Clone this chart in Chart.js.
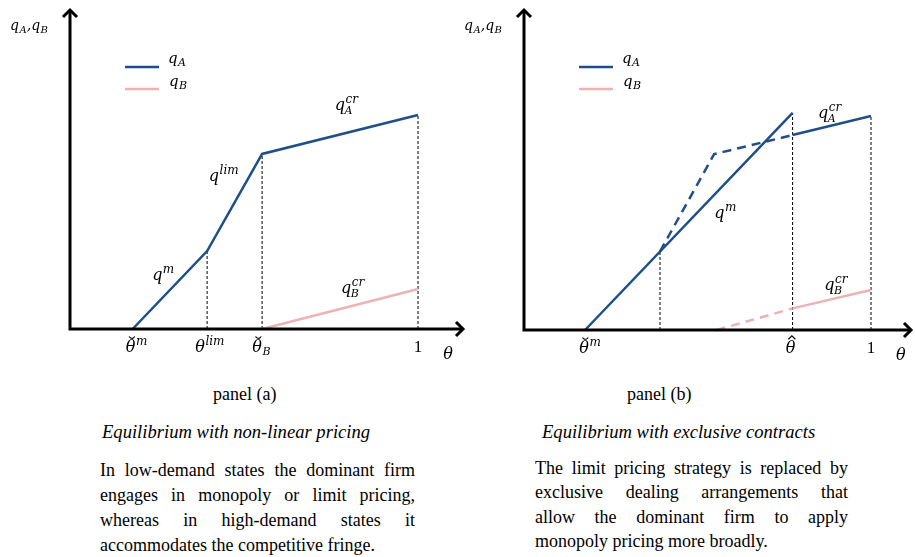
<!DOCTYPE html>
<html>
<head>
<meta charset="utf-8">
<script src="https://cdn.jsdelivr.net/npm/chart.js@4.4.1/dist/chart.umd.min.js"></script>
<style>
  body { margin: 0; background: #fff; width: 915px; height: 557px; position: relative; overflow: hidden;
         font-family: "Liberation Serif", "Times New Roman", serif; color: #000; }
  canvas { position: absolute; top: 0; }
  #chartA { left: 0; }
  #chartB { left: 455px; }
  .t { position: absolute; font-size: 18px; line-height: 20px; white-space: nowrap; }
  .it { font-style: italic; font-size: 18.6px; }
  .para { position: absolute; font-size: 18px; }
  .para div { text-align: justify; text-align-last: justify; white-space: nowrap; }
  .para div.last { text-align-last: left; }
</style>
</head>
<body>
<canvas id="chartA" width="470" height="370"></canvas>
<canvas id="chartB" width="460" height="370"></canvas>

<div class="t" style="left:213px;top:384px">panel (a)</div>
<div class="t" style="left:627px;top:384px">panel (b)</div>
<div class="t it" style="left:102px;top:422px">Equilibrium with non-linear pricing</div>
<div class="t it" style="left:542px;top:422px">Equilibrium with exclusive contracts</div>

<div class="para" style="left:100px;top:458px;width:315px;line-height:25px">
  <div>In low-demand states the dominant firm</div>
  <div>engages in monopoly or limit pricing,</div>
  <div>whereas in high-demand states it</div>
  <div class="last">accommodates the competitive fringe.</div>
</div>
<div class="para" style="left:535px;top:456px;width:313px;line-height:24.4px">
  <div>The limit pricing strategy is replaced by</div>
  <div>exclusive dealing arrangements that</div>
  <div>allow the dominant firm to apply</div>
  <div class="last">monopoly pricing more broadly.</div>
</div>

<script>
// ---- panel (a): non-linear pricing ----
const thetaA_a = [0.18, 0.394, 0.552, 1];      // θ̆m, θlim, θ̆B, 1
const qA_a = [0, 0.364, 0.818, 1.0];
const thetaB_a = [0.552, 1];
const qB_a = [0, 0.187];
const guideX_a = [0.394, 0.552, 1];
const guideTop_a = [0.364, 0.818, 1.0];
const tickX_a = [0.18, 0.394, 0.552, 1];
const tickLabels_a = [
  [["θ", "b"], ["", "breve"], ["m", "p"]],
  [["θ", "b"], ["lim", "p"]],
  [["θ", "b"], ["", "breve"], ["B", "d"]],
  [["1", "u"]],
];

// ---- panel (b): exclusive contracts ----
const thetaMono_b = [0.176, 0.774];
const qMono_b = [0, 1.015];
const thetaLimDash_b = [0.392, 0.548, 0.774];
const qLimDash_b = [0.367, 0.822, 0.911];
const thetaCr_b = [0.774, 1];
const qCr_b = [0.911, 1.0];
const thetaBDash_b = [0.555, 0.774];
const qBDash_b = [0, 0.101];
const thetaBSolid_b = [0.774, 1];
const qBSolid_b = [0.101, 0.187];
const guideX_b = [0.392, 0.774, 1];
const guideTop_b = [0.367, 1.015, 1.0];
const tickX_b = [0.176, 0.774, 1];
const tickLabels_b = [
  [["θ", "b"], ["", "breve"], ["m", "p"]],
  [["θ", "b"], ["", "hat"]],
  [["1", "u"]],
];

const BLUE = "#1f4e8a";
const PINK = "#ebb3b3";
const MATH = '"DejaVu Serif", "Liberation Serif", serif';
const UPRIGHT = '"Liberation Serif", serif';

// draws a small formula: parts are [text, kind], kind b=italic base, u=upright, p=sup, d=sub
function drawMath(ctx, parts, x, y, size, anchor, nudge) {
  const items = [];
  let cx = 0, supStart = 0, prev = null, base = null;
  for (const [t, k] of parts) {
    if (k === "breve" || k === "hat") { items.push({ k, x: base.x, w: base.w }); continue; }
    const small = k === "p" || k === "d";
    const fs = k === "p" ? Math.round(size * 0.78) : k === "d" ? Math.round(size * 0.7) : size;
    const font = k === "u" ? (size + 1) + "px " + UPRIGHT : "italic " + fs + "px " + MATH;
    ctx.font = font;
    const w = ctx.measureText(t).width;
    let px = cx;
    const stacked = k === "d" && prev === "p";
    if (stacked) px = supStart - 1;
    else if (small) { supStart = cx + 0.5; px = supStart; }
    let dy = 0;
    if (k === "p") dy = -size * 0.42;
    if (k === "d") dy = stacked ? size * 0.24 : size * 0.2;
    items.push({ t, font, x: px, w, dy });
    cx = Math.max(cx, px + w);
    if (!small) base = { x: px, w };
    prev = k;
  }
  let x0 = x;
  if (anchor === "base") x0 = x - items[0].w / 2;
  if (anchor === "center") x0 = x - cx / 2;
  x0 += nudge || 0;
  ctx.fillStyle = "#000";
  ctx.strokeStyle = "#000";
  ctx.textAlign = "left";
  ctx.textBaseline = "alphabetic";
  for (const it of items) {
    const bx = x0 + it.x + it.w / 2 + size * 0.08;
    const by = y - size * 0.86;
    if (it.k === "breve") {
      ctx.lineWidth = 1.1;
      ctx.beginPath();
      ctx.arc(bx, by - 3, 3, 0.12 * Math.PI, 0.88 * Math.PI);
      ctx.stroke();
      continue;
    }
    if (it.k === "hat") {
      ctx.lineWidth = 1.1;
      ctx.beginPath();
      ctx.moveTo(bx - 3.5, by);
      ctx.lineTo(bx, by - 3.5);
      ctx.lineTo(bx + 3.5, by);
      ctx.stroke();
      continue;
    }
    ctx.font = it.font;
    ctx.fillText(it.t, x0 + it.x, y + it.dy);
  }
}

const decor = {
  id: "decor",
  afterDatasetsDraw(chart, args, o) {
    const { ctx, chartArea: a, scales: { x, y } } = chart;
    ctx.save();
    // axes with open arrowheads
    ctx.strokeStyle = "#000";
    ctx.lineWidth = 3;
    ctx.beginPath();
    ctx.moveTo(a.left - 1.5, a.bottom);
    ctx.lineTo(a.right - 2, a.bottom);
    ctx.moveTo(a.left, a.bottom + 1.5);
    ctx.lineTo(a.left, a.top + 2);
    ctx.stroke();
    ctx.lineJoin = "miter";
    ctx.beginPath();
    ctx.moveTo(a.right - 9, a.bottom - 7);
    ctx.lineTo(a.right - 2, a.bottom);
    ctx.lineTo(a.right - 9, a.bottom + 7);
    ctx.moveTo(a.left - 7, a.top + 9);
    ctx.lineTo(a.left, a.top + 2);
    ctx.lineTo(a.left + 7, a.top + 9);
    ctx.stroke();

    // legend
    ctx.lineWidth = 2.5;
    ctx.strokeStyle = BLUE;
    ctx.beginPath(); ctx.moveTo(a.left + 55, a.top + 59); ctx.lineTo(a.left + 89, a.top + 59); ctx.stroke();
    ctx.strokeStyle = PINK;
    ctx.beginPath(); ctx.moveTo(a.left + 55, a.top + 81); ctx.lineTo(a.left + 89, a.top + 81); ctx.stroke();
    drawMath(ctx, [["q", "b"], ["A", "d"]], a.left + 98, a.top + 55, 15);
    drawMath(ctx, [["q", "b"], ["B", "d"]], a.left + 99, a.top + 78, 15);

    // y-axis title
    drawMath(ctx, [["q", "b"], ["A", "d"], [",", "b"], ["q", "b"], ["B", "d"]], a.left - 60, a.top + 22, 14);

    // x tick labels and axis title
    o.ticks.forEach((tx, i) => {
      drawMath(ctx, o.tickLabels[i], x.getPixelForValue(tx), a.bottom + 23, 16, "base", o.nudge[i]);
    });
    drawMath(ctx, [["θ", "b"]], x.getPixelForValue(1.086), a.bottom + 30, 16, "base");

    // curve labels
    o.labels.forEach((l) => drawMath(ctx, l.m, x.getPixelForValue(l.x), y.getPixelForValue(l.y), 16));
    ctx.restore();
  },
};

const pts = (xs, ys) => xs.map((v, i) => ({ x: v, y: ys[i] }));
const seg = (xs, ys, color, dash, width) => ({
  data: pts(xs, ys), showLine: true, borderColor: color, borderWidth: width || 2.5,
  borderDash: dash || [], pointRadius: 0, clip: false, fill: false,
});
const guides = (gx, gt) => gx.map((v, i) => seg([v, v], [0, gt[i]], "#000", [3, 2], 1));

function makeChart(id, datasets, cfg) {
  return new Chart(document.getElementById(id), {
    type: "scatter",
    data: { datasets },
    options: {
      responsive: false,
      animation: false,
      devicePixelRatio: 1,
      layout: { padding: cfg.pad },
      scales: {
        x: { type: "linear", min: 0, max: cfg.xMax, display: false },
        y: { type: "linear", min: 0, max: cfg.yMax, display: false },
      },
      elements: { line: { tension: 0 }, point: { radius: 0 } },
      plugins: { legend: { display: false }, tooltip: { enabled: false }, decor: cfg },
    },
    plugins: [decor],
  });
}

makeChart("chartA", [
  seg(thetaA_a, qA_a, BLUE),
  seg(thetaB_a, qB_a, PINK),
  ...guides(guideX_a, guideTop_a),
], {
  pad: { left: 70, right: 5, top: 8, bottom: 41 },
  xMax: 1.135, yMax: 1.5,
  ticks: tickX_a, tickLabels: tickLabels_a, nudge: [-2, -7, -5, 0],
  labels: [
    { m: [["q", "b"], ["cr", "p"], ["A", "d"]], x: 0.761, y: 1.023 },
    { m: [["q", "b"], ["lim", "p"]], x: 0.399, y: 0.692 },
    { m: [["q", "b"], ["m", "p"]], x: 0.236, y: 0.229 },
    { m: [["q", "b"], ["cr", "p"], ["B", "d"]], x: 0.779, y: 0.168 },
  ],
});

makeChart("chartB", [
  seg(thetaMono_b, qMono_b, BLUE),
  seg(thetaLimDash_b, qLimDash_b, BLUE, [9, 6]),
  seg(thetaCr_b, qCr_b, BLUE),
  seg(thetaBDash_b, qBDash_b, PINK, [9, 6]),
  seg(thetaBSolid_b, qBSolid_b, PINK),
  ...guides(guideX_b, guideTop_b),
], {
  pad: { left: 69, right: 2, top: 8, bottom: 40 },
  xMax: 1.121, yMax: 1.505,
  ticks: tickX_b, tickLabels: tickLabels_b, nudge: [-1, -2, 0],
  labels: [
    { m: [["q", "b"], ["cr", "p"], ["A", "d"]], x: 0.847, y: 0.991 },
    { m: [["q", "b"], ["m", "p"]], x: 0.548, y: 0.523 },
    { m: [["q", "b"], ["cr", "p"], ["B", "d"]], x: 0.865, y: 0.187 },
  ],
});
</script>
</body>
</html>
